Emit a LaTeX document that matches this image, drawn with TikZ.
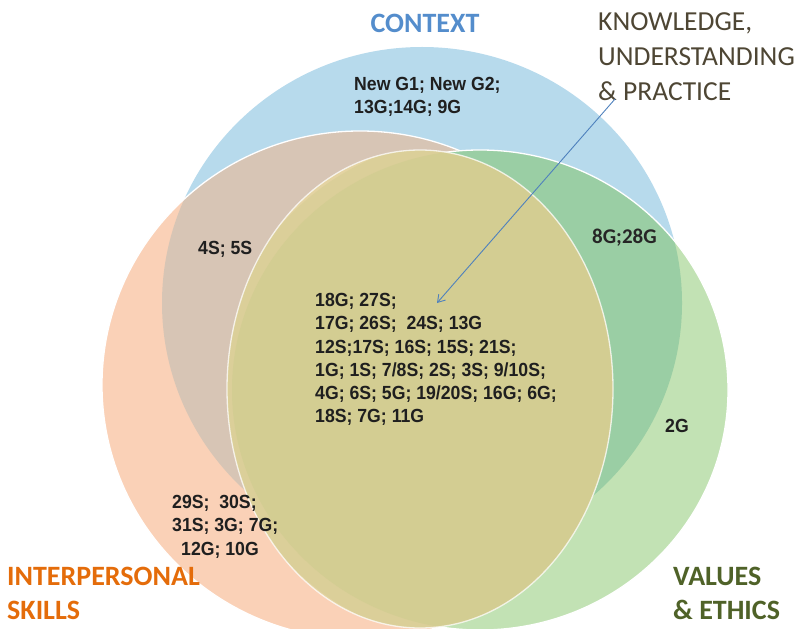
\documentclass[tikz,border=0pt]{standalone}
\usepackage{fontspec}
\setmainfont{Carlito}
\newfontfamily\capfont{Carlito}
\newfontfamily\numfont[FakeStretch=0.93]{Liberation Sans}
\usetikzlibrary{arrows.meta}

% fills of the four sets and their overlaps
\definecolor{ctxblue}{RGB}{183,218,236}
\definecolor{ipsorange}{RGB}{250,209,183}
\definecolor{ipsctx}{RGB}{215,197,181}
\definecolor{valgreen}{RGB}{194,226,180}
\definecolor{valctx}{RGB}{154,206,164}
\definecolor{kupolive}{RGB}{211,205,146}
\definecolor{kuptan}{RGB}{228,211,162}
% label colours
\definecolor{ctxtext}{RGB}{84,141,204}
\definecolor{ipstext}{RGB}{228,108,10}
\definecolor{valtext}{RGB}{79,98,40}
\definecolor{kuptext}{RGB}{78,70,52}
\definecolor{arrowblue}{RGB}{79,129,189}

\tikzset{
  ctxset/.style={insert path={(422,303) ellipse [x radius=260pt, y radius=256pt]}},
  ipsset/.style={insert path={(360,385) ellipse [x radius=258pt, y radius=254pt]}},
  valset/.style={insert path={(480,390) ellipse [x radius=248pt, y radius=240pt]}},
  valhalo/.style={insert path={(480,390) ellipse [x radius=262pt, y radius=254pt]}},
  kupset/.style={insert path={(420,389) ellipse [x radius=193pt, y radius=239pt]}},
  rim/.style={draw=white, line width=1.3pt},
  setlabel/.style={font=\capfont\bfseries\fontsize{28}{34}\selectfont, inner sep=0pt, align=left},
  kuplabel/.style={font=\capfont\fontsize{27.5}{35}\selectfont, inner sep=0pt, align=left, text=kuptext},
  codes/.style={font=\numfont\bfseries\fontsize{19}{23.3}\selectfont, inner sep=0pt, align=left, text=black!88},
  codesalt/.style={font=\capfont\bfseries\fontsize{21}{24}\selectfont, inner sep=0pt, text=black!85},
  pointer/.style={draw=arrowblue, line width=0.9pt, -{Straight Barb[length=7pt, width=9pt]}}
}

\begin{document}
\begin{tikzpicture}[x=1pt, y=-1pt]
\useasboundingbox (0,0) rectangle (799,628);
\begin{scope}
  \clip (0,0) rectangle (799,628);
  % context
  \fill[ctxblue, ctxset];
  % interpersonal skills
  \fill[ipsorange, ipsset];
  \begin{scope}
    \clip[ipsset];
    \fill[ipsctx, ctxset];
  \end{scope}
  \path[rim, ipsset];
  % values and ethics
  \fill[valgreen, valset];
  \begin{scope}
    \clip[valset];
    \fill[valctx, ctxset];
  \end{scope}
  \path[rim, valset];
  % knowledge, understanding and practice: olive where it meets
  % values and ethics, shading to tan in its lower left
  \begin{scope}
    \clip[kupset];
    \fill[kuptan, kupset];
    \fill[kupolive, fill opacity=0.5, valhalo];
    \fill[kupolive, valset];
  \end{scope}
  \path[rim, draw opacity=0.75, kupset];
\end{scope}

% set labels
\node[setlabel, text=ctxtext, anchor=center] (ctxlabel) at (425,23) {CONTEXT};
\node[kuplabel, anchor=north west] (kuplabel) at (598,12) {KNOWLEDGE,\\UNDERSTANDING\\\&~PRACTICE};
\node[setlabel, text=ipstext, anchor=north west] (ipslabel) at (7,567) {INTERPERSONAL\\SKILLS};
\node[setlabel, text=valtext, anchor=north west] (vallabel) at (673,567) {VALUES\\\&~ETHICS};

% codes in each region
\node[codes, anchor=north west] (ctxcodes) at (354,77) {New G1; New G2;\\13G;14G; 9G};
\node[codes, anchor=north west] (ipsctxcodes) at (198,241) {4S; 5S};
\node[codesalt, anchor=north west] (valctxcodes) at (592,229) {8G;28G};
\node[codes, anchor=north west] (valcodes) at (665,419) {2G};
\node[codes, anchor=north west] (ipscodes) at (172,495) {29S;~ 30S;\\31S; 3G; 7G;\\\hspace*{9pt}12G; 10G};
\node[codes, anchor=north west] (kupcodes) at (315,293)
  {18G; 27S;\\17G; 26S;~ 24S; 13G\\12S;17S; 16S; 15S; 21S;\\1G; 1S; 7/8S; 2S; 3S; 9/10S;\\4G; 6S; 5G; 19/20S; 16G; 6G;\\18S; 7G; 11G};

% pointer from the knowledge label into its circle
\coordinate (pointerstart) at (615,99);
\coordinate (pointerend) at (437,303);
\draw[pointer] (pointerstart) -- (pointerend);
\end{tikzpicture}
\end{document}
